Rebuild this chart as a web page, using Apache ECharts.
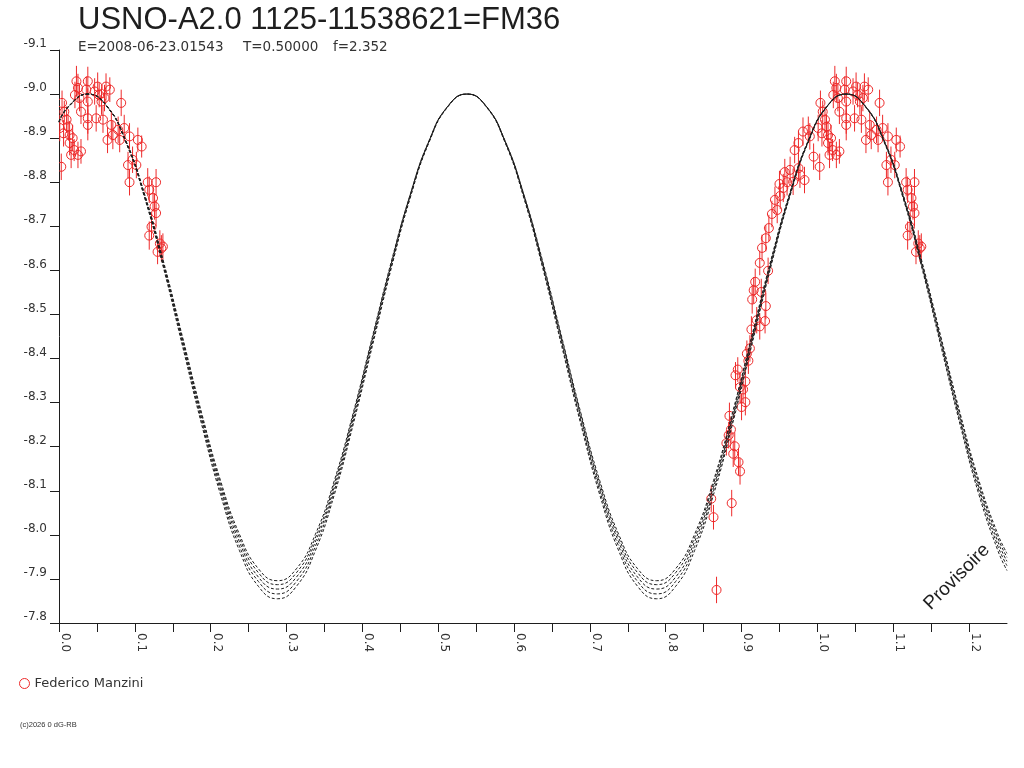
<!DOCTYPE html>
<html>
<head>
    <meta charset="utf-8">
    <title>USNO-A2.0 1125-11538621=FM36</title>
    <script src="https://cdn.jsdelivr.net/npm/echarts@6/dist/echarts.min.js"></script>
    <style>
        html, body { margin: 0; padding: 0; background: #fff; }
    </style>
</head>
<body>
    <div id="lc" style="width: 1024px;height: 768px;"></div>
</body>

<script>
    var RED = '#ee2a2a';
    var INK = '#1e1e1e';
    var FONT = '"Liberation Sans", Arial, sans-serif';
    var SMALL = '"DejaVu Sans", Verdana, sans-serif';

    // phase grid of the fitted curves
    var gridPhase = [0, 0.013, 0.038, 0.063, 0.088, 0.113, 0.138, 0.163, 0.188, 0.213, 0.238, 0.263, 0.288,
        0.313, 0.338, 0.363, 0.388, 0.413, 0.438, 0.463, 0.488, 0.513, 0.538,
        0.563, 0.588, 0.613, 0.638, 0.663, 0.688, 0.713, 0.738, 0.763, 0.788,
        0.813, 0.838, 0.863, 0.888, 0.913, 0.938, 0.963, 0.988, 1.013, 1.038,
        1.063, 1.088, 1.113, 1.138, 1.163, 1.188, 1.213, 1.238, 1.25];

    // five fitted curves (magnitude)
    var fit1 = [-8.936, -8.972, -9.000, -8.972, -8.891, -8.764, -8.604, -8.427, -8.251, -8.091, -7.964, -7.883, -7.855,
        -7.883, -7.964, -8.091, -8.251, -8.427, -8.604, -8.764, -8.891, -8.972, -9.000,
        -8.972, -8.891, -8.764, -8.604, -8.427, -8.251, -8.091, -7.964, -7.883, -7.855,
        -7.883, -7.964, -8.091, -8.251, -8.427, -8.604, -8.764, -8.891, -8.972, -9.000,
        -8.972, -8.891, -8.764, -8.604, -8.427, -8.251, -8.091, -7.964, -7.919];
    var fit2 = [-8.937, -8.972, -9.000, -8.972, -8.892, -8.766, -8.608, -8.433, -8.258, -8.100, -7.974, -7.894, -7.866,
        -7.894, -7.974, -8.100, -8.258, -8.433, -8.608, -8.766, -8.892, -8.972, -9.000,
        -8.972, -8.892, -8.766, -8.608, -8.433, -8.258, -8.100, -7.974, -7.894, -7.866,
        -7.894, -7.974, -8.100, -8.258, -8.433, -8.608, -8.766, -8.892, -8.972, -9.000,
        -8.972, -8.892, -8.766, -8.608, -8.433, -8.258, -8.100, -7.974, -7.930];
    var fit3 = [-8.937, -8.973, -9.000, -8.973, -8.893, -8.769, -8.612, -8.439, -8.265, -8.108, -7.984, -7.904, -7.877,
        -7.904, -7.984, -8.108, -8.265, -8.439, -8.612, -8.769, -8.893, -8.973, -9.000,
        -8.973, -8.893, -8.769, -8.612, -8.439, -8.265, -8.108, -7.984, -7.904, -7.877,
        -7.904, -7.984, -8.108, -8.265, -8.439, -8.612, -8.769, -8.893, -8.973, -9.000,
        -8.973, -8.893, -8.769, -8.612, -8.439, -8.265, -8.108, -7.984, -7.940];
    var fit4 = [-8.938, -8.973, -9.000, -8.973, -8.894, -8.771, -8.615, -8.444, -8.272, -8.116, -7.993, -7.914, -7.887,
        -7.914, -7.993, -8.116, -8.272, -8.444, -8.615, -8.771, -8.894, -8.973, -9.000,
        -8.973, -8.894, -8.771, -8.615, -8.444, -8.272, -8.116, -7.993, -7.914, -7.887,
        -7.914, -7.993, -8.116, -8.272, -8.444, -8.615, -8.771, -8.894, -8.973, -9.000,
        -8.973, -8.894, -8.771, -8.615, -8.444, -8.272, -8.116, -7.993, -7.949];
    var fit5 = [-8.938, -8.973, -9.000, -8.973, -8.895, -8.772, -8.619, -8.448, -8.277, -8.123, -8.001, -7.923, -7.896,
        -7.923, -8.001, -8.123, -8.277, -8.448, -8.619, -8.772, -8.895, -8.973, -9.000,
        -8.973, -8.895, -8.772, -8.619, -8.448, -8.277, -8.123, -8.001, -7.923, -7.896,
        -7.923, -8.001, -8.123, -8.277, -8.448, -8.619, -8.772, -8.895, -8.973, -9.000,
        -8.973, -8.895, -8.772, -8.619, -8.448, -8.277, -8.123, -8.001, -7.958];

    // observations (Federico Manzini): phase, magnitude, error
    var obsPhase = [0.003, 0.004, 0.001, 0.007, 0.010, 0.012, 0.006, 0.014, 0.018, 0.014,
        0.016, 0.020, 0.029, 0.025, 0.023, 0.025, 0.021, 0.027, 0.038, 0.036,
        0.038, 0.029, 0.038, 0.038, 0.049, 0.047, 0.053, 0.051, 0.062, 0.067,
        0.060, 0.056, 0.058, 0.069, 0.082, 0.071, 0.078, 0.064, 0.080, 0.086,
        0.093, 0.104, 0.109, 0.091, 0.097, 0.102, 0.093, 0.117, 0.128, 0.119,
        0.124, 0.126, 0.128, 0.122, 0.119, 0.133, 0.137, 0.130, 0.135,
        0.867, 0.860, 0.863, 0.887, 0.898, 0.896, 0.891, 0.889, 0.880, 0.883,
        0.886, 0.884, 0.900, 0.905, 0.902, 0.905, 0.892, 0.895, 0.898, 0.909,
        0.907, 0.911, 0.913, 0.920, 0.924, 0.931, 0.914, 0.916, 0.918, 0.932,
        0.926, 0.935, 0.924,
        0.927, 0.932, 0.936, 0.940, 0.947, 0.944, 0.951, 0.955, 0.960, 0.957, 0.964, 0.950,
        0.968, 0.983, 0.977, 0.975, 0.970, 0.975, 0.981, 0.988, 0.990, 0.995];
    var obsMag = [-8.835, -8.980, -8.923, -8.960, -8.942, -8.926, -8.911, -8.907, -8.900, -8.889,
        -8.862, -8.873, -8.870, -8.862, -9.029, -9.014, -8.998, -8.991, -9.029, -9.010,
        -8.983, -8.960, -8.945, -8.930, -8.945, -9.006, -8.998, -9.017, -9.017, -9.010,
        -8.991, -8.983, -8.942, -8.930, -8.980, -8.907, -8.919, -8.896, -8.896, -8.923,
        -8.904, -8.896, -8.881, -8.839, -8.851, -8.839, -8.800, -8.800, -8.800, -8.783,
        -8.764, -8.745, -8.730, -8.699, -8.679, -8.661, -8.654, -8.642, -8.650,
        -7.875, -8.082, -8.040, -8.072, -8.144, -8.165, -8.201, -8.184, -8.208, -8.226,
        -8.239, -8.270, -8.290, -8.301, -8.330, -8.348, -8.362, -8.375, -8.335, -8.395,
        -8.411, -8.423, -8.466, -8.487, -8.473, -8.485, -8.534, -8.555, -8.574, -8.519,
        -8.551, -8.599, -8.617,
        -8.651, -8.673, -8.696, -8.728, -8.737, -8.760, -8.769, -8.787, -8.800, -8.823, -8.828, -8.796,
        -8.801, -8.805, -8.817, -8.832, -8.873, -8.889, -8.915, -8.919, -8.904, -8.858];
    var obsErr = [0.030, 0.028, 0.030, 0.025, 0.030, 0.028, 0.030, 0.032, 0.030, 0.028,
        0.030, 0.025, 0.028, 0.030, 0.035, 0.032, 0.030, 0.030, 0.033, 0.030,
        0.030, 0.028, 0.035, 0.035, 0.030, 0.030, 0.028, 0.032, 0.030, 0.028,
        0.030, 0.030, 0.030, 0.032, 0.030, 0.032, 0.030, 0.030, 0.028, 0.030,
        0.030, 0.028, 0.025, 0.030, 0.030, 0.030, 0.030, 0.032, 0.030, 0.030,
        0.030, 0.030, 0.030, 0.030, 0.032, 0.030, 0.030, 0.028, 0.030,
        0.030, 0.030, 0.028, 0.030, 0.030, 0.030, 0.032, 0.030, 0.028, 0.030,
        0.030, 0.030, 0.030, 0.030, 0.032, 0.030, 0.030, 0.028, 0.035, 0.030,
        0.030, 0.030, 0.030, 0.030, 0.030, 0.028, 0.032, 0.030, 0.030, 0.030,
        0.030, 0.030, 0.028,
        0.030, 0.030, 0.030, 0.030, 0.030, 0.030, 0.030, 0.032, 0.030, 0.030, 0.030, 0.030,
        0.030, 0.030, 0.030, 0.030, 0.030, 0.028, 0.032, 0.030, 0.030, 0.030];

    // x tick labels every 0.1, ticks every 0.05
    var xLabels = ['0.0', '0.1', '0.2', '0.3', '0.4', '0.5', '0.6', '0.7', '0.8', '0.9', '1.0', '1.1', '1.2'];

    // observations are repeated one cycle later where the axis goes past 1.0
    var obsData = [];
    obsPhase.forEach(function (p, i) {
        obsData.push([p, obsMag[i], obsErr[i]]);
        if (p < 0.25) obsData.push([p + 1, obsMag[i], obsErr[i]]);
    });

    function curveSeries(mags) {
        return {
            type: 'line',
            data: gridPhase.map(function (p, i) { return [p, mags[i]]; }),
            smooth: true,
            showSymbol: false,
            silent: true,
            z: 3,
            lineStyle: { color: INK, width: 1, type: [3, 2] }
        };
    }

    function smallText(str, x) {
        return {
            type: 'text', x: x, y: 40,
            style: { text: str, fontSize: 13.5, fill: '#333', fontFamily: SMALL }
        };
    }

    var option = {
        animation: false,
        backgroundColor: '#fff',
        textStyle: { fontFamily: FONT },
        title: {
            text: 'USNO-A2.0 1125-11538621=FM36',
            left: 78, top: 5, padding: 0,
            textStyle: { fontSize: 31, fontWeight: 'normal', color: INK, fontFamily: FONT }
        },
        legend: {
            left: 14, top: 672,
            itemWidth: 10, itemHeight: 10,
            textStyle: { fontSize: 13, color: '#333', fontFamily: SMALL },
            data: [{
                name: 'Federico Manzini', icon: 'circle',
                itemStyle: { color: 'transparent', borderColor: RED, borderWidth: 1 }
            }]
        },
        grid: { left: 59, right: 17, top: 50, bottom: 145 },
        xAxis: {
            type: 'value',
            min: 0, max: 1.25, interval: 0.05,
            axisLine: { lineStyle: { color: INK } },
            axisTick: { length: 9, lineStyle: { color: INK } },
            splitLine: { show: false },
            axisLabel: {
                rotate: -90, margin: 10, fontSize: 12, color: '#333', fontFamily: SMALL,
                verticalAlign: 'bottom', showMaxLabel: false,
                formatter: function (v) {
                    var k = Math.round(v * 20);
                    return k % 2 === 0 ? xLabels[k / 2] : '';
                }
            }
        },
        yAxis: {
            type: 'value',
            inverse: true,
            min: -9.1, max: -7.8, interval: 0.1,
            axisLine: { show: true, lineStyle: { color: INK } },
            axisTick: { show: true, length: 9, lineStyle: { color: INK } },
            splitLine: { show: false },
            axisLabel: {
                margin: 12, fontSize: 12, color: '#333', fontFamily: SMALL, verticalAlign: 'bottom',
                formatter: function (v) { return v.toFixed(1); }
            }
        },
        graphic: [
            smallText('E=2008-06-23.01543', 78),
            smallText('T=0.50000', 243),
            smallText('f=2.352', 333),
            {
                type: 'text', left: 20, top: 721,
                style: { text: '(c)2026 0 dG-RB', fontSize: 7.5, fill: '#333', fontFamily: FONT }
            }, {
                type: 'text', x: 957, y: 577, rotation: Math.PI / 4,
                style: {
                    text: 'Provisoire', fontSize: 19, fill: INK, fontFamily: FONT,
                    align: 'center', verticalAlign: 'middle'
                }
            }
        ],
        series: [{
            name: 'Federico Manzini',
            type: 'custom',
            data: obsData,
            encode: { x: 0, y: 1 },
            z: 2,
            clip: true,
            renderItem: function (params, api) {
                var c = api.coord([api.value(0), api.value(1)]);
                var hi = api.coord([api.value(0), api.value(1) - api.value(2)]);
                var lo = api.coord([api.value(0), api.value(1) + api.value(2)]);
                return {
                    type: 'group',
                    children: [{
                        type: 'line',
                        shape: { x1: c[0], y1: hi[1], x2: c[0], y2: lo[1] },
                        style: { stroke: RED, lineWidth: 1 }
                    }, {
                        type: 'circle',
                        shape: { cx: c[0], cy: c[1], r: 4.5 },
                        style: { fill: 'none', stroke: RED, lineWidth: 1 }
                    }]
                };
            }
        },
            curveSeries(fit1), curveSeries(fit2), curveSeries(fit3), curveSeries(fit4), curveSeries(fit5)
        ]
    };

    var lcChart = echarts.init(document.getElementById('lc'));
    lcChart.setOption(option);
</script>
</html>
